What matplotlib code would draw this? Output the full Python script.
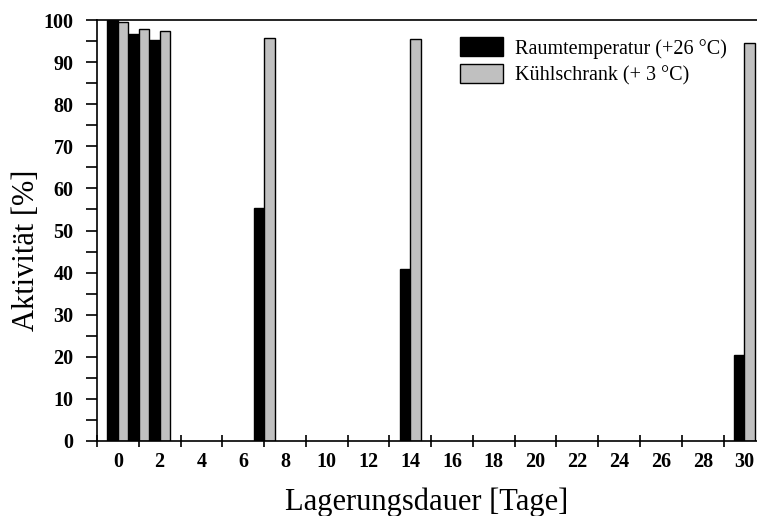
import numpy as np
import matplotlib
matplotlib.use("Agg")
import matplotlib.pyplot as plt
from matplotlib.ticker import MultipleLocator, FixedLocator

# Lagerungsdauer in Tagen und Aktivität in %
tage = [0, 1, 2, 7, 14, 30]
raumtemperatur = [100.0, 96.6, 95.3, 55.4, 40.8, 20.4]
kuehlschrank = [99.6, 97.9, 97.3, 95.8, 95.6, 94.6]

labels = ["Raumtemperatur (+26 °C)", "Kühlschrank (+ 3 °C)"]
xticks = list(range(0, 31, 2))

plt.rcParams['font.family'] = ['Liberation Serif', 'DejaVu Serif']

fig = plt.figure(figsize=(7.57, 5.16), dpi=100)
ax = fig.add_axes([97 / 757, 75 / 516, 660 / 757, 421 / 516])

x = np.array(tage)
w = 0.5
ax.bar(x - w / 2, raumtemperatur, width=w, color="black", edgecolor="black",
       linewidth=1, label=labels[0])
ax.bar(x + w / 2, kuehlschrank, width=w, color="#c0c0c0", edgecolor="black",
       linewidth=1, label=labels[1])

ax.set_xlim(-1, 30.6)
ax.set_ylim(0, 100)

# x-Achse: Beschriftung an geraden Tagen, Striche an ungeraden
ax.xaxis.set_major_locator(FixedLocator(xticks))
ax.xaxis.set_minor_locator(FixedLocator(list(range(-1, 31, 2))))
ax.tick_params(axis="x", which="major", length=0, pad=8, labelsize=14.5)
ax.tick_params(axis="x", which="minor", direction="inout", length=9, width=1.2)
for t in ax.get_xticklabels():
    t.set_fontweight("bold")

ax.yaxis.set_major_locator(MultipleLocator(10))
ax.yaxis.set_minor_locator(MultipleLocator(5))
ax.tick_params(axis="y", which="both", direction="out", length=8, width=1.2,
               pad=9, labelsize=14.5)
for t in ax.get_yticklabels():
    t.set_fontweight("bold")

ax.spines["right"].set_visible(False)
for s in ["left", "bottom", "top"]:
    ax.spines[s].set_linewidth(1.2)

ax.set_xlabel("Lagerungsdauer [Tage]", fontsize=22)
ax.set_ylabel("Aktivität [%]", fontsize=22)
ax.yaxis.set_label_coords(-0.085, 0.454)
ax.xaxis.set_label_coords(0.5, -0.11)

ax.legend(loc="upper left", bbox_to_anchor=(460 / 757, 1 - 37 / 516),
          bbox_transform=fig.transFigure, frameon=False, fontsize=14.5,
          handlelength=2.15, handleheight=1.1, handletextpad=0.6,
          labelspacing=0.25, borderpad=0, borderaxespad=0)

fig.savefig("out.png", dpi=100)
